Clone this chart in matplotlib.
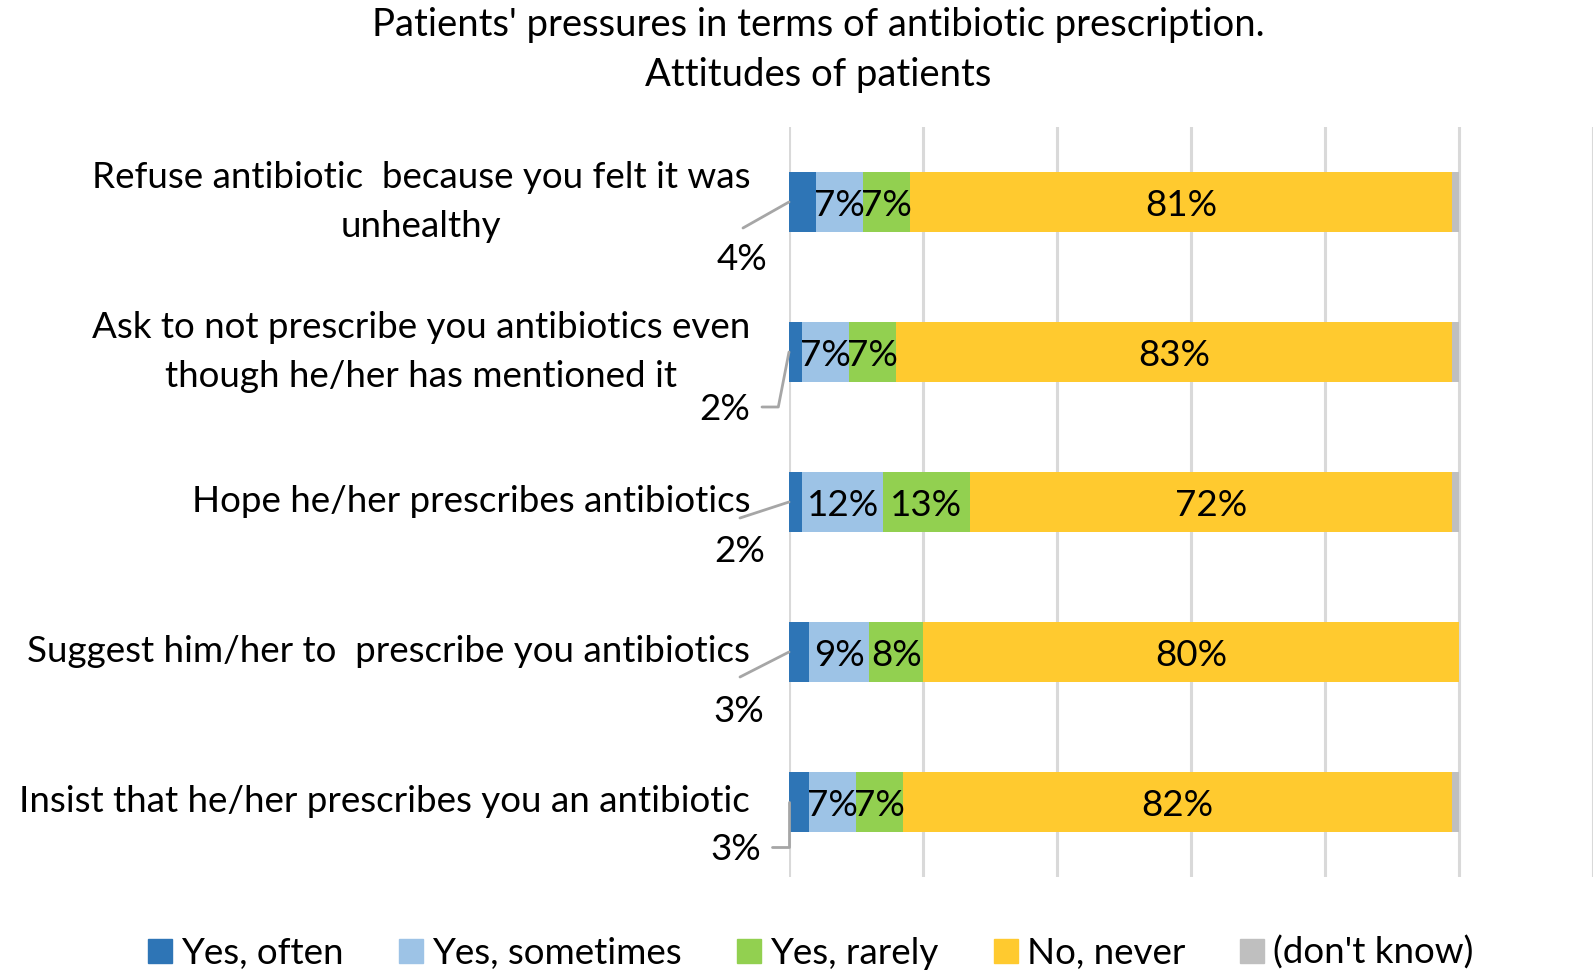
import matplotlib.pyplot as plt
from matplotlib.patches import Patch
from matplotlib.transforms import blended_transform_factory

plt.rcParams['font.family'] = ['Lato', 'DejaVu Sans']
plt.rcParams['font.size'] = 26.5

categories = [
    "Refuse antibiotic  because you felt it was\nunhealthy",
    "Ask to not prescribe you antibiotics even\nthough he/her has mentioned it",
    "Hope he/her prescribes antibiotics",
    "Suggest him/her to  prescribe you antibiotics",
    "Insist that he/her prescribes you an antibiotic",
]
series_names = ["Yes, often", "Yes, sometimes", "Yes, rarely", "No, never", "(don't know)"]
often = [4, 2, 2, 3, 3]
sometimes = [7, 7, 12, 9, 7]
rarely = [7, 7, 13, 8, 7]
never = [81, 83, 72, 80, 82]
dont_know = [1, 1, 1, 0, 1]

colors = ["#2E75B6", "#9DC3E6", "#92D050", "#FFCA2F", "#BFBFBF"]

# outside labels for "Yes, often": text offset and leader end, in pixels from bar start
often_text_off = [(-47, -54), (-64, -55), (-49, -47), (-50, -57), (-53, -45)]
often_line_end = [(-46, -26), (-27, -55), (-49, -16), (-49, -25), (-17, -45)]
often_line_cs = ["arc3", "angle,angleA=0,angleB=79,rad=0", "arc3", "arc3",
                 "angle,angleA=0,angleB=90,rad=0"]

fig = plt.figure(figsize=(15.94, 9.77), dpi=100)
ax = fig.add_axes([789 / 1594, 100 / 977, 804 / 1594, 750 / 977])

y = list(range(len(categories)))
series = [often, sometimes, rarely, never, dont_know]
left = [0] * len(categories)
for k, (vals, col) in enumerate(zip(series, colors)):
    ax.barh(y, vals, left=left, height=0.4, color=col, zorder=2)
    if k in (1, 2, 3):
        for yi, l, v in zip(y, left, vals):
            ax.text(l + v / 2, yi, f"{v}%", ha='center', va='center_baseline', color='black', zorder=3)
    left = [l + v for l, v in zip(left, vals)]

for yi, v, toff, lend, cs in zip(y, often, often_text_off, often_line_end, often_line_cs):
    ax.annotate(f"{v}%", xy=(0, yi), xytext=toff, textcoords='offset pixels',
                ha='center', va='center_baseline', annotation_clip=False)
    ax.annotate('', xy=(0, yi), xytext=lend, textcoords='offset pixels', annotation_clip=False,
                arrowprops=dict(arrowstyle='-', color='#A6A6A6', lw=2, shrinkA=0, shrinkB=0,
                                connectionstyle=cs))

ax.set_xlim(0, 120)
ax.set_ylim(len(categories) - 0.5, -0.5)
ax.set_xticks(range(0, 121, 20))
ax.set_yticks(y)
ax.grid(axis='x', color='#D9D9D9', lw=2.2)
ax.set_axisbelow(True)
for s in ax.spines.values():
    s.set_visible(False)
ax.tick_params(length=0, labelbottom=False, labelleft=False)

# category labels, right-aligned left of the axis, lines centred
lab_trans = blended_transform_factory(ax.transAxes, ax.transData)
for yi, cat in zip(y, categories):
    ax.text(-0.0485, yi, cat, transform=lab_trans, ha='right', va='center',
            multialignment='center', linespacing=1.58)

fig.text(818 / 1594, 1 - 50 / 977,
         "Patients' pressures in terms of antibiotic prescription.\nAttitudes of patients",
         ha='center', va='center', linespacing=1.45, fontsize=27.5)

handles = [Patch(color=c) for c in colors]
fig.legend(handles, series_names, loc='center', bbox_to_anchor=(811 / 1594, 1 - 953 / 977),
           ncol=5, frameon=False, handlelength=0.65, handleheight=0.65,
           handletextpad=0.25, columnspacing=1.5)

fig.savefig('out.png', dpi=100)
